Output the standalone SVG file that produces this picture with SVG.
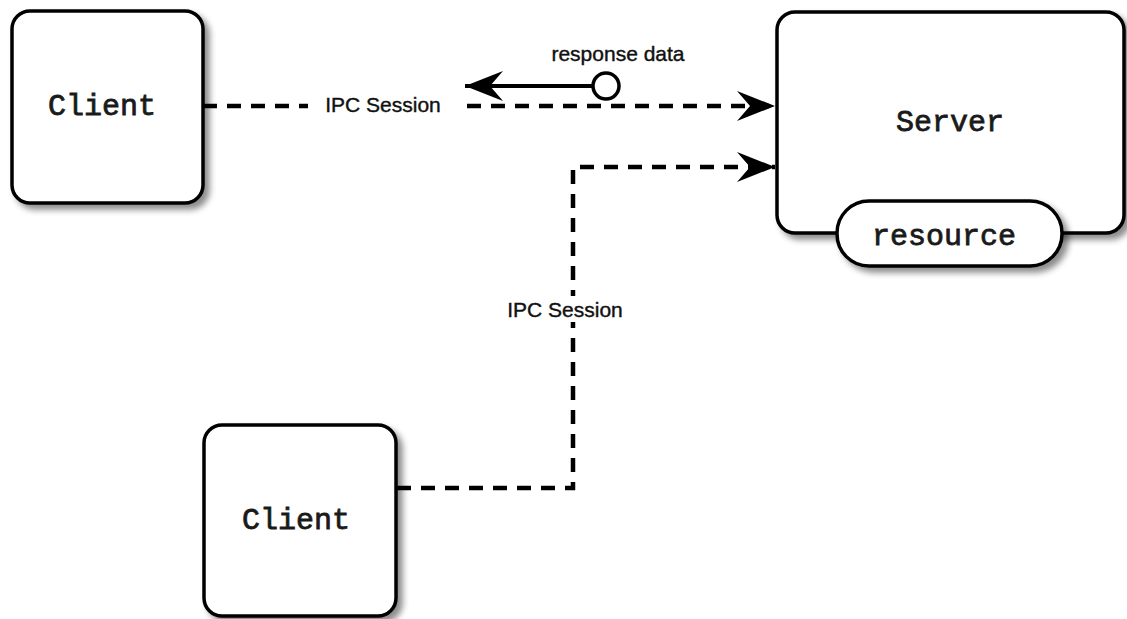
<svg xmlns="http://www.w3.org/2000/svg" width="1127" height="619" viewBox="0 0 1127 619">
  <defs>
    <filter id="shadow" x="-10%" y="-10%" width="130%" height="130%">
      <feDropShadow dx="5" dy="5" stdDeviation="3" flood-color="#000" flood-opacity="0.45"/>
    </filter>
    <marker id="arrow" markerUnits="userSpaceOnUse" markerWidth="44" markerHeight="34" viewBox="-40 -17 44 34" refX="0" refY="0" orient="auto">
      <path d="M0,0 L-38,-15 L-25,0 L-38,15 Z" fill="#000"/>
    </marker>
  </defs>
  <style>
    .box { fill: #fff; stroke: #000; stroke-width: 3.5; filter: url(#shadow); }
    .name { font-family: "Liberation Mono", "Courier New", monospace; font-size: 30px; fill: #1a1a1a; stroke: #1a1a1a; stroke-width: 0.8; text-anchor: middle; dominant-baseline: central; }
    .session { fill: none; stroke: #000; stroke-width: 4.5; stroke-dasharray: 14 10; }
    .label { font-family: "Liberation Sans", Arial, sans-serif; font-size: 21px; fill: #111; stroke: #111; stroke-width: 0.4; text-anchor: middle; dominant-baseline: central; }
    .labelbg { fill: #fff; }
  </style>

  <rect width="1127" height="619" fill="#fff"/>

  <!-- connectors -->
  <g id="connectors">
    <path class="session" d="M203,106 H775" marker-end="url(#arrow)"/>
    <path class="session" d="M397,488 H573 V167 H775" marker-end="url(#arrow)"/>
    <rect class="labelbg" x="308" y="92" width="152" height="26"/>
    <text class="label" x="383" y="104">IPC Session</text>
    <rect class="labelbg" x="498" y="296" width="136" height="26"/>
    <text class="label" x="565" y="309">IPC Session</text>
    <!-- response flow back to the first client -->
    <path d="M593,86 H465" fill="none" stroke="#000" stroke-width="4" marker-end="url(#arrow)"/>
    <circle cx="606" cy="86" r="13" fill="#fff" stroke="#000" stroke-width="3.5"/>
    <text class="label" x="618" y="53">response data</text>
  </g>

  <g id="client-1">
    <rect class="box" x="12" y="11" width="191" height="192" rx="18"/>
    <text class="name" x="102" y="107">Client</text>
  </g>

  <g id="client-2">
    <rect class="box" x="204" y="425" width="192" height="191" rx="18"/>
    <text class="name" x="296" y="521">Client</text>
  </g>

  <g id="server">
    <rect class="box" x="777" y="12" width="347" height="221" rx="18"/>
    <text class="name" x="950" y="123">Server</text>
  </g>

  <g id="resource">
    <rect class="box" x="837" y="201" width="225" height="65" rx="32"/>
    <text class="name" x="944" y="237">resource</text>
  </g>
</svg>
